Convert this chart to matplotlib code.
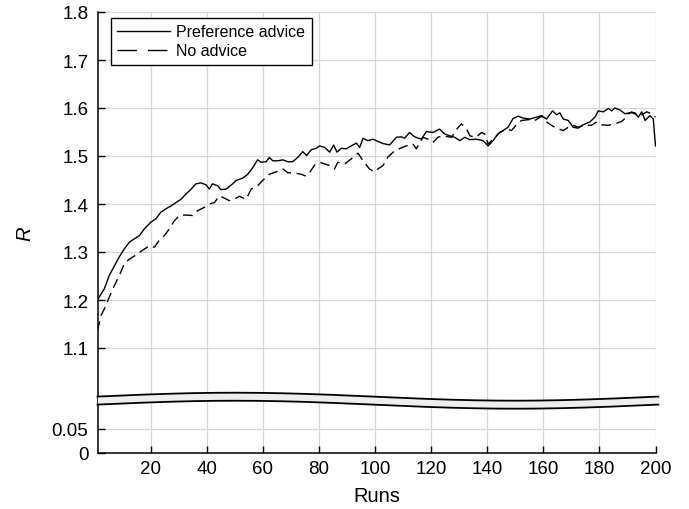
import numpy as np
import matplotlib
matplotlib.use("Agg")
import matplotlib.pyplot as plt
from matplotlib.lines import Line2D

plt.rcParams['font.family'] = ['Liberation Sans', 'DejaVu Sans']

# ---- data ----
pref_runs = [1, 2.2, 3.4, 5.2, 7, 8.8, 10.5, 12.3, 14, 15.9, 17.7, 20, 21.8, 23.6, 25.4, 27.2, 29, 30.8,
             32.6, 34.4, 36.1, 37.9, 39.7, 40.9, 42, 43.9, 45, 46.9, 49.2, 50.4, 52.8, 54.6, 56.4, 58.1,
             59.3, 61.1, 62.3, 63.5, 65.3, 67.1, 68.9, 70.6, 72.4, 74.2, 75.6, 77.2, 79, 80.2, 82, 83.8,
             85.2, 86.4, 87.9, 89.7, 91.5, 93.3, 94.5, 95.7, 97.4, 99.2, 100.4, 102.8, 105.2, 107.6, 109.4,
             110.5, 112.3, 114.1, 116.5, 118.3, 120.6, 123, 124.8, 126.6, 128.4, 130.2, 132, 133.8, 136.1,
             138.5, 140.3, 142.1, 143.9, 145.6, 147.4, 149.2, 151, 152.8, 155.2, 157.6, 159.4, 161.1, 163.3,
             164.7, 165.9, 167.1, 168.9, 170.6, 172.4, 174.2, 176.6, 178.4, 179.6, 181.4, 183.2, 184.4, 185.5,
             187.3, 189.1, 190.9, 192.7, 193.9, 195.1, 196.3, 198, 199.2, 200]
pref_vals = [1.200, 1.212, 1.223, 1.251, 1.271, 1.290, 1.306, 1.320, 1.327, 1.334, 1.348, 1.362, 1.369, 1.383,
             1.390, 1.396, 1.403, 1.410, 1.421, 1.431, 1.442, 1.444, 1.440, 1.431, 1.442, 1.438, 1.430, 1.431,
             1.442, 1.449, 1.454, 1.462, 1.476, 1.492, 1.487, 1.488, 1.497, 1.490, 1.490, 1.492, 1.488, 1.488,
             1.497, 1.509, 1.501, 1.513, 1.516, 1.521, 1.518, 1.508, 1.523, 1.508, 1.516, 1.515, 1.521, 1.527,
             1.518, 1.537, 1.532, 1.535, 1.532, 1.526, 1.523, 1.539, 1.540, 1.537, 1.549, 1.540, 1.535, 1.551,
             1.549, 1.556, 1.546, 1.542, 1.539, 1.532, 1.539, 1.534, 1.535, 1.532, 1.521, 1.532, 1.547, 1.553,
             1.560, 1.578, 1.583, 1.579, 1.577, 1.581, 1.584, 1.577, 1.594, 1.586, 1.590, 1.577, 1.574, 1.560,
             1.558, 1.565, 1.571, 1.581, 1.594, 1.592, 1.599, 1.594, 1.600, 1.596, 1.588, 1.590, 1.590, 1.581,
             1.592, 1.574, 1.584, 1.577, 1.521]

none_runs = [1, 2.2, 3.4, 5.2, 7, 8.8, 10.5, 12.3, 14, 15.9, 17.7, 19.5, 21.3, 23, 24.8, 26.6, 28.4, 30.2,
             32.6, 34.9, 36.7, 39.1, 40.9, 42.7, 44.5, 45.6, 48, 50.4, 51.6, 54, 55.8, 58.1, 59.9, 62.3, 64.7,
             67.1, 68.9, 70.6, 73.6, 75.4, 76.6, 78.4, 80.2, 83.8, 85.5, 86.7, 89.1, 91.5, 93.9, 95.7, 98,
             99.8, 101, 102.8, 104.6, 107, 109.4, 111.1, 113.5, 114.7, 117.1, 118.9, 120.6, 122.4, 124.2,
             127.3, 129.1, 130.8, 132.6, 133.8, 136.1, 137.9, 139.1, 140.3, 142.1, 144.5, 146.9, 148.6, 150.4,
             152.2, 155.2, 157, 159.4, 161.1, 162.9, 164.7, 167.1, 168.9, 170.6, 172.4, 174.8, 177.2, 179,
             180.8, 183.2, 185.5, 187.9, 189.7, 190.3, 191.5, 193.3, 195.1, 196.9, 198.6, 200]
none_vals = [1.136, 1.167, 1.181, 1.206, 1.230, 1.251, 1.275, 1.285, 1.291, 1.299, 1.306, 1.313, 1.310, 1.324,
             1.334, 1.348, 1.365, 1.376, 1.377, 1.376, 1.386, 1.393, 1.400, 1.403, 1.417, 1.414, 1.407, 1.412,
             1.416, 1.410, 1.431, 1.438, 1.449, 1.462, 1.467, 1.473, 1.465, 1.465, 1.462, 1.458, 1.465, 1.481,
             1.487, 1.480, 1.473, 1.487, 1.483, 1.494, 1.506, 1.490, 1.473, 1.467, 1.473, 1.480, 1.498, 1.511,
             1.517, 1.521, 1.525, 1.515, 1.539, 1.535, 1.528, 1.539, 1.542, 1.539, 1.556, 1.567, 1.556, 1.542,
             1.539, 1.549, 1.546, 1.525, 1.535, 1.549, 1.556, 1.553, 1.565, 1.574, 1.576, 1.574, 1.583, 1.571,
             1.564, 1.558, 1.553, 1.560, 1.564, 1.560, 1.564, 1.564, 1.571, 1.565, 1.564, 1.567, 1.572, 1.581,
             1.588, 1.592, 1.585, 1.586, 1.592, 1.588, 1.581]

x_ticks = [20, 40, 60, 80, 100, 120, 140, 160, 180, 200]
y_tick_vals = [0, 0.05, 1.1, 1.2, 1.3, 1.4, 1.5, 1.6, 1.7, 1.8]
y_tick_labels = ["0", "0.05", "1.1", "1.2", "1.3", "1.4", "1.5", "1.6", "1.7", "1.8"]
series_labels = ["Preference advice", "No advice"]

# ---- broken axis transform ----
OFFSET = 0.88125   # upper segment shifted down by this amount
BREAK_AT = 0.1


def tr(v):
    v = np.asarray(v, dtype=float)
    return np.where(v > BREAK_AT, v - OFFSET, v)


fig = plt.figure(figsize=(6.89, 5.10), dpi=100)
ax = fig.add_axes([97.5 / 689, 56 / 510, 558 / 689, 441 / 510])

dash_data = (0, (7, 4))
ax.plot(pref_runs, tr(pref_vals), color='black', lw=1.0, zorder=3)
ax.plot(none_runs, tr(none_vals), color='black', lw=1.0, linestyle=dash_data, zorder=3)

ax.set_xlim(1, 200)
ax.set_ylim(0, 1.8 - OFFSET)

ax.set_xticks(x_ticks)
ax.set_yticks(tr(y_tick_vals))
ax.set_yticklabels(y_tick_labels)
ax.tick_params(direction='in', length=5, width=1, labelsize=13.5, colors='black')
ax.tick_params(axis='x', pad=5)
ax.tick_params(axis='y', pad=6.5)

ax.grid(True, color='#d6d6d6', lw=0.9, zorder=0)
ax.set_axisbelow(True)
for s in ['top', 'right']:
    ax.spines[s].set_visible(False)
for s in ['left', 'bottom']:
    ax.spines[s].set_linewidth(1.1)

# ---- wavy break band ----
xb = np.linspace(1, 201, 400)
amp = 0.0083
wave = amp * np.sin(2 * np.pi * xb / 200.0)
top_c = 0.1173 + wave
bot_c = 0.1006 + wave
ax.fill_between(xb, bot_c, top_c, color='#eeeeee', lw=0, zorder=5, clip_on=False)
ax.plot(xb, top_c, color='black', lw=1.3, zorder=6, clip_on=False)
ax.plot(xb, bot_c, color='black', lw=1.3, zorder=6, clip_on=False)

ax.set_xlabel("Runs", fontsize=14.5)
ax.xaxis.set_label_coords(0.5, -0.074)
ax.xaxis.label.set_va('top')
ax.set_ylabel("R", fontsize=14.5, style='italic')
ax.yaxis.set_label_coords(-0.114, 0.5)

handles = [Line2D([], [], color='black', lw=1.0),
           Line2D([], [], color='black', lw=1.0, linestyle=(0, (14, 8)))]
leg = ax.legend(handles, series_labels, loc='upper left', bbox_to_anchor=(13.5 / 558, 1 - 6 / 441),
                fontsize=11.5, frameon=True, fancybox=False, edgecolor='black', framealpha=1,
                handlelength=3.3, handletextpad=0.4, borderpad=0.4, labelspacing=0.25,
                borderaxespad=0)
leg.get_frame().set_linewidth(1.0)

fig.savefig("out.png", dpi=100)
